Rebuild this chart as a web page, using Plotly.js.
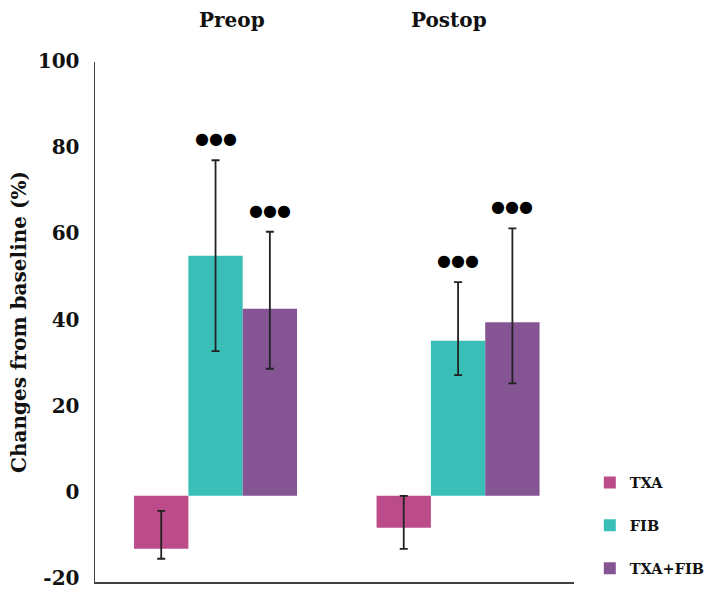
<!DOCTYPE html>
<html>
<head>
<meta charset="utf-8">
<script src="https://cdn.plot.ly/plotly-3.0.1.min.js"></script>
<style>html,body{margin:0;padding:0;background:#fff;}#chart{width:707px;height:589px;}</style>
</head>
<body>
<div id="chart"></div>
<script>
const groups = ['Preop', 'Postop'];
const seriesNames = ['TXA', 'FIB', 'TXA+FIB'];
const txaMean = [-12.3, -7.4];
const txaUpper = [-3.5, 0.0];
const txaLower = [-14.6, -12.3];
const fibMean = [55.7, 36.0];
const fibUpper = [77.9, 49.6];
const fibLower = [33.6, 28.0];
const comboMean = [43.4, 40.3];
const comboUpper = [61.3, 62.1];
const comboLower = [29.5, 26.1];
const txaSig = ['', ''];
const fibSig = ['●●●', '●●●'];
const comboSig = ['●●●', '●●●'];
const yTickVals = [-20, 0, 20, 40, 60, 80, 100];

const colors = ['#BC4B8A', '#3ABFB8', '#845592'];
const means = [txaMean, fibMean, comboMean];
const uppers = [txaUpper, fibUpper, comboUpper];
const lowers = [txaLower, fibLower, comboLower];
const sigs = [txaSig, fibSig, comboSig];

const serif = 'DejaVu Serif, serif';

const traces = seriesNames.map((name, i) => ({
  type: 'bar',
  name: name,
  x: groups,
  y: means[i],
  legendgroup: name,
  marker: {color: colors[i], line: {width: 0}},
  error_y: {
    type: 'data',
    symmetric: false,
    array: means[i].map((m, j) => uppers[i][j] - m),
    arrayminus: means[i].map((m, j) => m - lowers[i][j]),
    color: '#222222',
    thickness: 1.8,
    width: 4
  },
  hoverinfo: 'y'
}));

const groupWidth = 0.672;
const barW = groupWidth / seriesNames.length;
const annotations = [];
seriesNames.forEach((name, i) => {
  groups.forEach((g, j) => {
    if (sigs[i][j]) {
      annotations.push({
        x: j + (i - 1) * barW,
        xref: 'x',
        y: uppers[i][j] + 5,
        yref: 'y',
        text: sigs[i][j],
        showarrow: false,
        xanchor: 'center',
        yanchor: 'middle',
        font: {family: 'DejaVu Sans, sans-serif', size: 16, color: '#000'}
      });
    }
  });
});
const groupShift = [16, -9];
groups.forEach((g, j) => {
  annotations.push({
    x: j, xref: 'x', xshift: groupShift[j],
    y: 1, yref: 'paper', yshift: 42,
    text: '<b>' + g + '</b>',
    showarrow: false,
    xanchor: 'center', yanchor: 'middle',
    font: {family: serif, size: 20, color: '#111'}
  });
});

const layout = {
  width: 707,
  height: 589,
  margin: {l: 95, r: 133, t: 62, b: 7, autoexpand: false},
  paper_bgcolor: '#ffffff',
  plot_bgcolor: '#ffffff',
  barmode: 'group',
  bargap: 1 - groupWidth,
  bargroupgap: 0,
  showlegend: true,
  legend: {
    x: 1.033, xanchor: 'left',
    y: 0.222, yanchor: 'top',
    font: {family: serif, size: 14.5, color: '#111', weight: 'bold'},
    tracegroupgap: 21,
    bgcolor: 'rgba(0,0,0,0)',
    traceorder: 'grouped'
  },
  xaxis: {
    type: 'category',
    range: [-0.497, 1.478],
    showticklabels: false,
    ticks: '',
    showgrid: false,
    zeroline: false,
    showline: true,
    linecolor: '#404040',
    linewidth: 1.5
  },
  yaxis: {
    range: [-20, 100.7],
    tickvals: yTickVals,
    ticktext: yTickVals.map(String),
    ticks: '',
    ticklabelstandoff: 10,
    ticklabelshift: -4,
    ticklabeloverflow: 'allow',
    tickfont: {family: serif, size: 20, color: '#111', weight: 'bold'},
    showgrid: false,
    zeroline: false,
    showline: true,
    linecolor: '#404040',
    linewidth: 1.5,
    title: {
      text: '<b>Changes from baseline (%)</b>',
      font: {family: serif, size: 20, color: '#111'},
      standoff: 6
    }
  },
  annotations: annotations
};

Plotly.newPlot('chart', traces, layout, {displayModeBar: false, staticPlot: true});
</script>
</body>
</html>
